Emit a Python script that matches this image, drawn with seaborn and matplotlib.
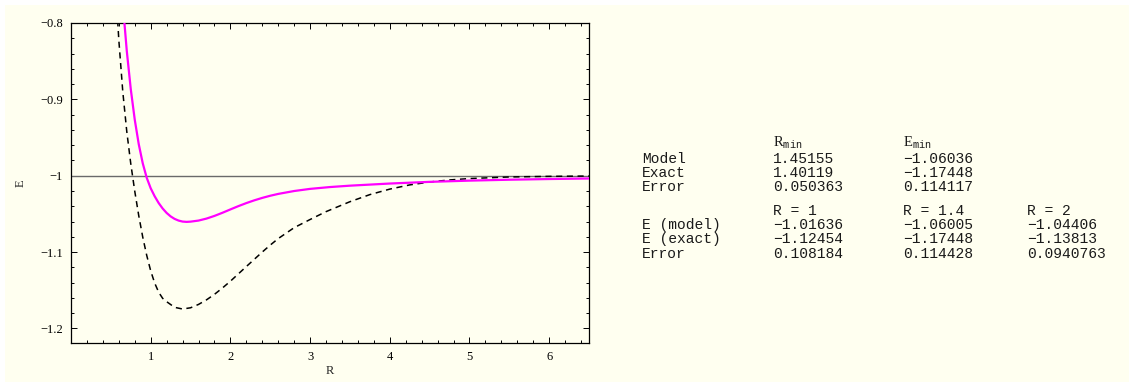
import numpy as np
import pandas as pd
import matplotlib
matplotlib.use("Agg")
import matplotlib.pyplot as plt
import seaborn as sns
from matplotlib.ticker import MultipleLocator, FixedLocator
from matplotlib.patches import Rectangle

# values
r_model = [0.60, 0.65, 0.70, 0.75, 0.80, 0.85, 0.90, 0.95, 1.00, 1.05, 1.10, 1.15,
           1.20, 1.25, 1.30, 1.35, 1.40, 1.45, 1.50, 1.60, 1.70, 1.80, 1.90, 2.00,
           2.10, 2.20, 2.30, 2.40, 2.50, 2.60, 2.80, 3.00, 3.25, 3.50, 4.00, 4.50,
           5.00, 5.50, 6.00, 6.50]
e_model = [-0.6986, -0.7746, -0.8366, -0.8866, -0.9266, -0.9586, -0.9836, -1.0026,
           -1.0164, -1.0269, -1.0357, -1.0429, -1.0487, -1.0532, -1.0565, -1.0587,
           -1.0600, -1.0604, -1.0601, -1.0587, -1.0561, -1.0526, -1.0485, -1.0441,
           -1.0398, -1.0358, -1.0322, -1.0290, -1.0262, -1.0238, -1.0200, -1.0172,
           -1.0148, -1.0130, -1.0102, -1.0080, -1.0064, -1.0052, -1.0043, -1.0036]

r_exact = [0.55, 0.60, 0.65, 0.70, 0.75, 0.80, 0.85, 0.90, 0.95, 1.00, 1.05, 1.10,
           1.15, 1.20, 1.30, 1.40, 1.50, 1.60, 1.70, 1.80, 1.90, 2.00, 2.20, 2.40,
           2.50, 2.60, 2.80, 3.00, 3.20, 3.50, 3.75, 4.00, 4.25, 4.50, 4.75, 5.00,
           5.50, 6.00, 6.50]
e_exact = [-0.735, -0.8222, -0.8902, -0.9422, -0.9842, -1.0202, -1.0522, -1.0802,
           -1.1042, -1.1245, -1.1405, -1.1525, -1.1605, -1.1649, -1.1723, -1.1745,
           -1.1729, -1.1685, -1.1625, -1.1553, -1.1470, -1.1381, -1.1189, -1.0999,
           -1.0908, -1.0823, -1.0680, -1.0573, -1.0470, -1.0340, -1.0247, -1.0175,
           -1.0120, -1.0082, -1.0055, -1.0037, -1.0016, -1.0008, -1.0004]

# table on the right
row_top = ["Model", "Exact", "Error"]
col_rmin = ["1.45155", "1.40119", "0.050363"]
col_emin = ["-1.06036", "-1.17448", "0.114117"]
row_bottom = ["E (model)", "E (exact)", "Error"]
r_heads = ["R = 1", "R = 1.4", "R = 2"]
e_r1 = ["-1.01636", "-1.12454", "0.108184"]
e_r14 = ["-1.06005", "-1.17448", "0.114428"]
e_r2 = ["-1.04406", "-1.13813", "0.0940763"]

sns.set_style("ticks")
plt.rcParams["font.family"] = ["Liberation Serif", "DejaVu Serif"]
plt.rcParams["mathtext.fontset"] = "custom"
plt.rcParams["mathtext.rm"] = "Liberation Serif"
plt.rcParams["mathtext.tt"] = "Liberation Mono"
plt.rcParams["axes.unicode_minus"] = True

cream = "#FFFFF0"
W, H = 1129, 382
fig = plt.figure(figsize=(W / 100, H / 100), dpi=100, facecolor="white")
fig.patches.append(Rectangle((5 / W, 0), 1, (H - 5) / H, transform=fig.transFigure,
                             facecolor=cream, edgecolor="none", zorder=-10))

ax = fig.add_axes([71 / W, 1 - 343 / H, (589 - 71) / W, (343 - 23) / H])
ax.set_facecolor(cream)

ax.axhline(-1, color="#6a6a6a", lw=1.0, zorder=1)
sns.lineplot(x=r_exact, y=e_exact, ax=ax, color="black", lw=1.1,
             linestyle=(0, (4, 3)), zorder=2)
sns.lineplot(x=r_model, y=e_model, ax=ax, color="#FF00FF", lw=1.6, zorder=3)

ax.set_xlim(0, 6.5)
ax.set_ylim(-1.219, -0.8)
ax.xaxis.set_major_locator(FixedLocator([1, 2, 3, 4, 5, 6]))
ax.xaxis.set_minor_locator(MultipleLocator(0.2))
ax.yaxis.set_major_locator(FixedLocator([-1.2, -1.1, -1.0, -0.9, -0.8]))
ax.yaxis.set_minor_locator(MultipleLocator(0.02))
ax.set_yticklabels(["\u22121.2", "\u22121.1", "\u22121", "\u22120.9", "\u22120.8"])
ax.tick_params(which="both", direction="in", top=True, right=True,
               labelsize=9, colors="black", width=0.7)
ax.tick_params(which="major", length=4.5, pad=6)
ax.tick_params(which="minor", length=2.2)
for s in ax.spines.values():
    s.set_linewidth(0.9)
    s.set_color("black")

ax.set_xlabel("R", fontsize=9)
ax.set_ylabel("E", fontsize=9)
ax.xaxis.set_label_coords(0.5, -0.07)
ax.yaxis.set_label_coords(-0.085, 0.5)

# text table
mono = {"family": ["Liberation Mono", "DejaVu Sans Mono"], "fontsize": 10.5,
        "color": "#1a1a1a", "va": "baseline", "ha": "left"}
x0, x1, x2, x3 = 642, 773, 903, 1027
def put(x, y, s, **kw):
    fig.text(x / W, 1 - y / H, s, **{**mono, **kw})

put(x1, 146.7, r"$\mathrm{R}_{\mathtt{min}}$")
put(x2, 146.7, r"$\mathrm{E}_{\mathtt{min}}$")
for i, yb in enumerate([163.3, 177.3, 191.3]):
    put(x0, yb, row_top[i])
    put(x1, yb, col_rmin[i].replace("-", "\u2212"))
    put(x2, yb, col_emin[i].replace("-", "\u2212"))
for j, xx in enumerate([x1, x2, x3]):
    put(xx, 215.0, r_heads[j])
for i, yb in enumerate([229.3, 243.3, 257.5]):
    put(x0, yb, row_bottom[i])
    put(x1, yb, e_r1[i].replace("-", "\u2212"))
    put(x2, yb, e_r14[i].replace("-", "\u2212"))
    put(x3, yb, e_r2[i].replace("-", "\u2212"))

fig.savefig("out.png", dpi=100, facecolor=fig.get_facecolor())
